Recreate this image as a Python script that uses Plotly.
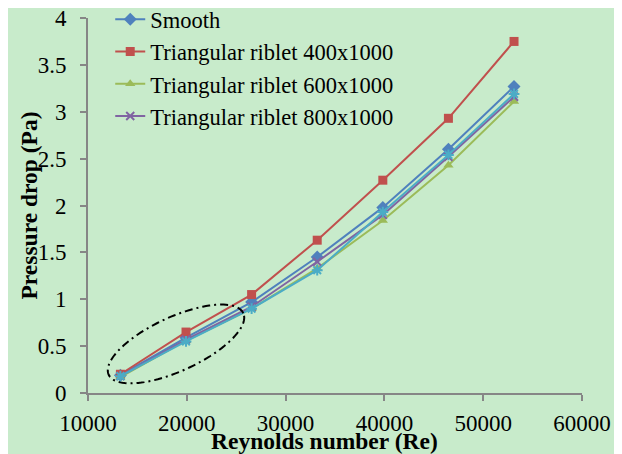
import numpy as np
import plotly.graph_objects as go

# ---- data ----
reynolds = [13280, 19920, 26560, 33200, 39840, 46480, 53120]
smooth = [0.19, 0.59, 0.97, 1.45, 1.98, 2.60, 3.27]
riblet_400 = [0.20, 0.65, 1.05, 1.63, 2.27, 2.93, 3.75]
riblet_600 = [0.17, 0.56, 0.90, 1.33, 1.84, 2.43, 3.11]
riblet_800 = [0.18, 0.57, 0.92, 1.40, 1.90, 2.52, 3.16]
riblet_extra = [0.18, 0.55, 0.90, 1.31, 1.93, 2.54, 3.19]

x_ticks = [10000, 20000, 30000, 40000, 50000, 60000]
y_ticks = [0, 0.5, 1, 1.5, 2, 2.5, 3, 3.5, 4]
y_tick_labels = ["0", "0.5", "1", "1.5", "2", "2.5", "3", "3.5", "4"]

# ---- layout geometry (page body adds an 8px offset) ----
W, H = 614, 446
ML, MR, MT, MB = 80, 40, 10, 61
XR = [10000, 60000]
YR = [0, 4]
pw, ph = W - ML - MR, H - MT - MB
px_per_x = pw / (XR[1] - XR[0])
px_per_y = ph / (YR[1] - YR[0])

BG = "#C8EBCB"
AX = "#868686"
FONT = "Times New Roman, Liberation Serif, serif"
FS_TICK = 23
FS_LEG = 22.5
FS_TITLE = 23.5

fig = go.Figure()

series = [
    ("Smooth", smooth, "#4F81BD", dict(symbol="diamond", size=10), True),
    ("Triangular riblet 400x1000", riblet_400, "#C0504D", dict(symbol="square", size=9), True),
    ("Triangular riblet 600x1000", riblet_600, "#9BBB59", dict(symbol="triangle-up", size=9), True),
    ("Triangular riblet 800x1000", riblet_800, "#8064A2",
     dict(symbol="x-thin-open", size=8, line=dict(width=2)), True),
    ("Triangular riblet", riblet_extra, "#4BACC6",
     dict(symbol="asterisk-open", size=9, line=dict(width=2)), False),
]
for name, ys, col, mk, show in series:
    m = dict(color=col, **mk)
    if "line" in mk:
        m["line"] = dict(color=col, width=mk["line"]["width"])
    fig.add_trace(go.Scatter(x=reynolds, y=ys, name=name, mode="lines+markers",
                             line=dict(color=col, width=2), marker=m,
                             showlegend=show))

# dash-dot ellipse (centre in data units, axes in pixels)
ec_x, ec_y = 18907, 0.523
ea, eb, eth = 74, 27, np.deg2rad(24.6)
t = np.linspace(0, 2 * np.pi, 120)
dx = ea * np.cos(t) * np.cos(eth) - eb * np.sin(t) * np.sin(eth)
dy = ea * np.cos(t) * np.sin(eth) + eb * np.sin(t) * np.cos(eth)
ex = ec_x + dx / px_per_x
ey = ec_y + dy / px_per_y
path = "M " + " L ".join(f"{a:.2f},{b:.4f}" for a, b in zip(ex, ey)) + " Z"
fig.add_shape(type="path", path=path, xref="x", yref="y",
              line=dict(color="black", width=2, dash="8px,4px,2px,4px"))

# axis titles as annotations for precise placement
fig.add_annotation(text="<b>Reynolds number (Re)</b>", xref="paper", yref="paper",
                   x=(316 - ML) / pw, y=-(433 - MT - ph) / ph,
                   xanchor="center", yanchor="middle", showarrow=False,
                   font=dict(family=FONT, size=FS_TITLE, color="black"))
fig.add_annotation(text="<b>Pressure drop (Pa)</b>", xref="paper", yref="paper",
                   x=(20 - ML) / pw, y=0.5, textangle=-90,
                   xanchor="center", yanchor="middle", showarrow=False,
                   font=dict(family=FONT, size=FS_TITLE, color="black"))

fig.update_layout(
    width=W, height=H,
    margin=dict(l=ML, r=MR, t=MT, b=MB, autoexpand=False),
    paper_bgcolor=BG, plot_bgcolor=BG,
    font=dict(family=FONT, size=FS_TICK, color="black"),
    showlegend=True,
    legend=dict(x=0.045, y=1.053, xanchor="left", yanchor="top",
                bgcolor="rgba(0,0,0,0)", font=dict(size=FS_LEG, family=FONT),
                tracegroupgap=0, itemwidth=30),
    xaxis=dict(range=XR, tickvals=x_ticks, ticktext=[str(v) for v in x_ticks],
               showgrid=False, zeroline=False, showline=True, linecolor=AX, linewidth=2,
               ticks="outside", ticklen=6, tickcolor=AX, tickwidth=2,
               ticklabelstandoff=2, ticklabeloverflow="allow"),
    yaxis=dict(range=YR, tickvals=y_ticks, ticktext=y_tick_labels,
               showgrid=False, zeroline=False, showline=True, linecolor=AX, linewidth=2,
               ticks="outside", ticklen=6, tickcolor=AX, tickwidth=2,
               ticklabelstandoff=9, ticklabeloverflow="allow"),
)

fig.write_html("out.html")
